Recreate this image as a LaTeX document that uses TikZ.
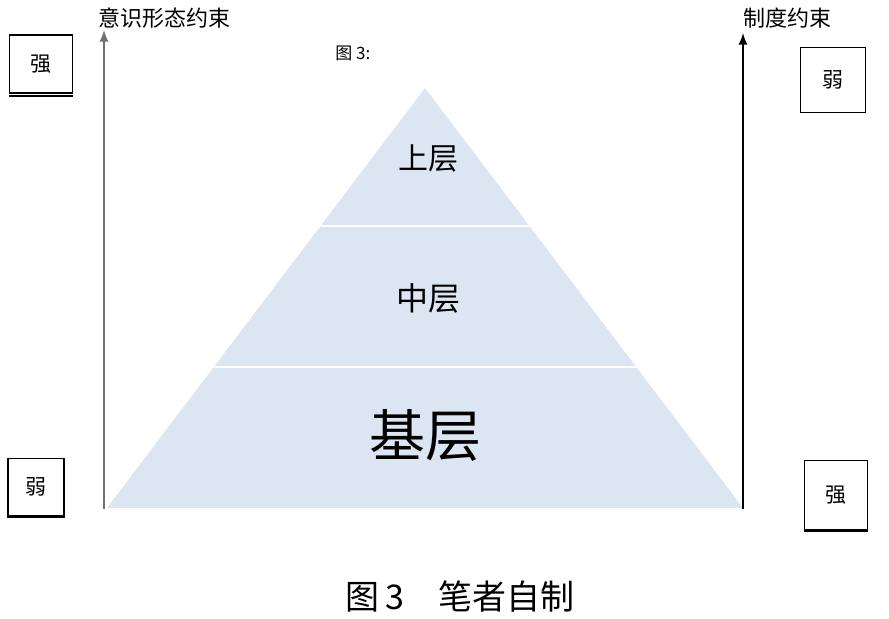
\documentclass[tikz,border=0pt]{standalone}
\usepackage{fontspec}
\newfontfamily\cjk{Noto Sans CJK SC}
\usetikzlibrary{arrows}
\definecolor{layerblue}{HTML}{DCE6F2}
\definecolor{axisgray}{HTML}{707070}

\begin{document}
\begin{tikzpicture}[x=0.5pt,y=-0.5pt,
    box/.style={draw,line width=0.6pt,fill=white,inner sep=0pt,font=\cjk\fontsize{10.5}{12}\selectfont},
    lbl/.style={inner sep=0pt,font=\cjk\fontsize{11}{13}\selectfont}]
                      \useasboundingbox (0,0) rectangle (889,619);
                      % Draw Pyramid
                      \fill[layerblue] (425,88) -- (743,508) -- (107,508) -- cycle;
                      \foreach \y/\xl/\xr in {226/319/531,367/212/638}
                          {
                              \draw[white,line width=1.2pt] (\xl,\y) -- (\xr,\y);
                          }
                      \node[inner sep=0pt,font=\cjk\fontsize{15}{17}\selectfont] (top) at (428,158) {上层};
                      \node[inner sep=0pt,font=\cjk\fontsize{16}{18}\selectfont] (mid) at (428,298) {中层};
                      \node[inner sep=0pt,font=\cjk\fontsize{28}{32}\selectfont] (base) at (425,435) {基层};
                      % Draw Axes
                      \coordinate (L0) at (104,509);
                      \coordinate (L1) at (104,30);
                      \coordinate (R0) at (743,509);
                      \coordinate (R1) at (743,33);
                      \draw[axisgray,line width=1pt,-latex] (L0) -- (L1);
                      \draw[black,line width=1pt,-latex] (R0) -- (R1);
                      \node[lbl,anchor=west] (ideo) at (98,18) {意识形态约束};
                      \node[lbl,anchor=west] (inst) at (743,18) {制度约束};
                      \node[inner sep=0pt,anchor=west,font=\cjk\fontsize{8.5}{10}\selectfont] (fig) at (335,53) {图 3:};
                      % Strong / weak boxes
                      \node[box,minimum width=31.5pt,minimum height=29pt] (strongL) at (41,64) {强};
                      \node[box,minimum width=28pt,minimum height=28.5pt] (weakL) at (36,487) {弱};
                      \node[box,minimum width=32.5pt,minimum height=32.5pt] (weakR) at (833,80) {弱};
                      \node[box,minimum width=31.5pt,minimum height=34.5pt] (strongR) at (836,495) {强};
                      \draw[line width=1.2pt] ([yshift=-1.2pt]strongL.south west) -- ([yshift=-1.2pt]strongL.south east);
                      \draw[line width=1.2pt] ([yshift=-0.6pt]weakL.south west) -- ([yshift=-0.6pt]weakL.south east);
                      \draw[line width=1.2pt] ([yshift=-0.6pt]strongR.south west) -- ([yshift=-0.6pt]strongR.south east);
                      % Caption
                      \node[inner sep=0pt,font=\cjk\fontsize{17}{20}\selectfont] (cap) at (460,597) {图\,3\quad 笔者自制};
                  \end{tikzpicture}
\end{document}
